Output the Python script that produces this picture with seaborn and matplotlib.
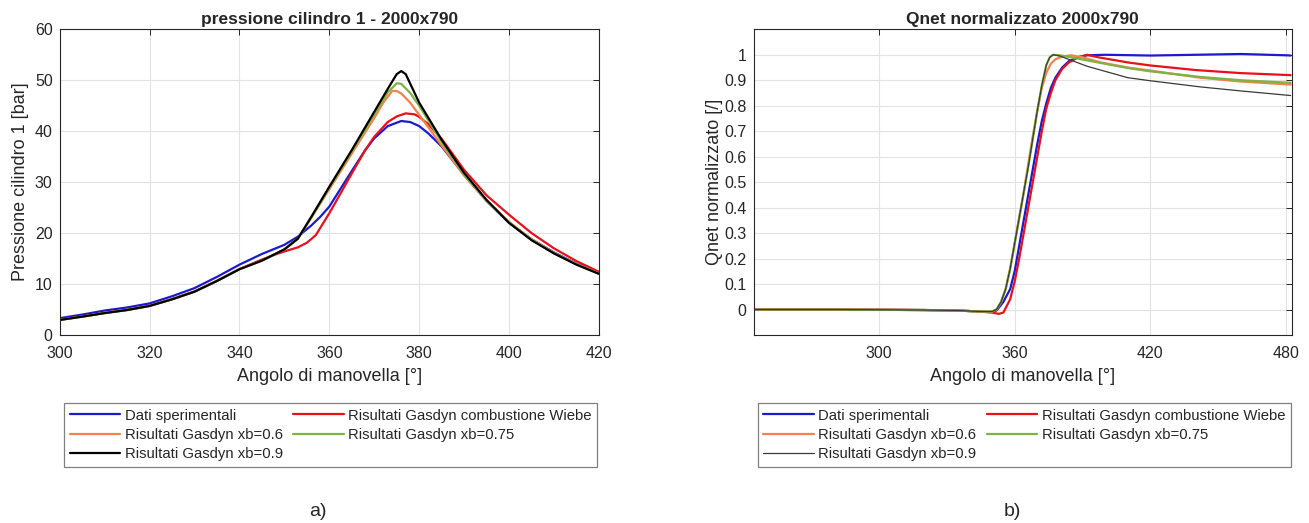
import pandas as pd
import seaborn as sns
import numpy as np
import matplotlib.pyplot as plt

# --- pressione cilindro 1 [bar] vs angolo di manovella ---
p_early_ang = [300, 305, 310, 315, 320, 325, 330, 335, 340, 345, 350]
p_early = [2.95, 3.6, 4.3, 4.9, 5.7, 7.0, 8.5, 10.6, 12.9, 14.6, 16.8]

p_ang_blue = [300, 305, 310, 315, 320, 325, 330, 335, 340, 345, 350, 353, 356, 358, 360, 362, 365, 368,
              370, 373, 376, 378, 380, 382, 385, 390, 395, 400, 405, 410, 415, 420]
p_blue = [3.3, 4.0, 4.8, 5.4, 6.2, 7.6, 9.2, 11.4, 13.8, 15.9, 17.7, 19.3, 21.5, 23.2, 25.2, 28.0, 32.2, 36.3,
          38.6, 41.0, 42.0, 41.8, 41.0, 39.6, 37.0, 31.4, 26.3, 22.0, 18.8, 16.2, 14.0, 12.2]

p_ang_red = [300, 305, 310, 315, 320, 325, 330, 335, 340, 345, 348, 350, 353, 355, 357, 360, 362, 365, 368,
             370, 373, 375, 377, 379, 380, 382, 385, 390, 395, 400, 405, 410, 415, 420]
p_red = [3.0, 3.65, 4.35, 4.95, 5.75, 7.05, 8.55, 10.65, 12.95, 14.8, 15.8, 16.4, 17.2, 18.1, 19.6, 23.9, 27.0,
         31.7, 36.3, 38.9, 41.8, 42.9, 43.5, 43.3, 42.8, 41.4, 38.5, 32.4, 27.4, 23.6, 20.0, 17.0, 14.5, 12.4]

p_ang_orange = p_early_ang + [353, 356, 360, 365, 370, 372, 374, 375, 376, 378, 380, 385, 390, 395, 400,
                              405, 410, 415, 420]
p_orange = p_early + [18.9, 23.0, 28.6, 35.6, 42.6, 45.6, 47.9, 47.9, 47.4, 45.6, 43.2, 37.2, 31.3, 26.3, 22.2,
                      18.8, 16.1, 13.9, 12.1]

p_ang_green = p_early_ang + [353, 356, 360, 365, 370, 373, 375, 376, 378, 380, 385, 390, 395, 400,
                             405, 410, 415, 420]
p_green = p_early + [18.9, 23.1, 28.9, 36.0, 43.3, 47.6, 49.4, 49.3, 47.5, 45.0, 37.9, 31.5, 26.4, 22.1,
                     18.7, 16.0, 13.9, 12.0]

p_ang_black = p_early_ang + [353, 356, 360, 365, 370, 373, 375, 376, 377, 380, 385, 390, 395, 400,
                             405, 410, 415, 420]
p_black = p_early + [18.9, 23.2, 29.1, 36.3, 43.8, 48.3, 51.2, 51.8, 51.2, 45.6, 38.3, 31.8, 26.5, 22.0,
                     18.6, 16.0, 13.8, 12.0]

# --- Qnet normalizzato [/] vs angolo di manovella ---
q_flat_ang = [245, 260, 280, 300, 320, 335, 345]
q_flat = [0.0, 0.0, 0.0, -0.001, -0.002, -0.004, -0.008]

q_ang_blue = q_flat_ang + [349, 352, 355, 358, 360, 362, 364, 366, 368, 370, 372, 374, 376, 378, 381, 384,
                           388, 392, 400, 420, 440, 460, 480, 482]
q_blue = q_flat + [-0.01, -0.004, 0.03, 0.08, 0.15, 0.25, 0.35, 0.45, 0.55, 0.65, 0.74, 0.81, 0.87, 0.91,
                   0.95, 0.975, 0.99, 0.998, 1.0, 0.997, 1.0, 1.003, 0.998, 0.997]

q_ang_red = q_flat_ang + [350, 353, 355, 358, 360, 362, 364, 366, 368, 370, 372, 374, 376, 378, 381, 384,
                          388, 392, 397, 410, 420, 440, 460, 482]
q_red = q_flat + [-0.012, -0.017, -0.012, 0.04, 0.11, 0.2, 0.3, 0.4, 0.5, 0.6, 0.7, 0.79, 0.85, 0.9,
                  0.945, 0.97, 0.99, 1.0, 0.99, 0.97, 0.958, 0.94, 0.928, 0.92]

q_ang_orange = q_flat_ang + [350, 352, 354, 356, 358, 360, 362, 364, 366, 368, 370, 372, 374, 376, 378, 381,
                             385, 390, 398, 410, 420, 442, 460, 482]
q_orange = q_flat + [-0.008, 0.0, 0.03, 0.08, 0.16, 0.26, 0.36, 0.46, 0.57, 0.68, 0.78, 0.87, 0.93, 0.965,
                     0.982, 0.993, 0.998, 0.99, 0.97, 0.95, 0.938, 0.91, 0.895, 0.883]

q_ang_green = q_flat_ang + [350, 352, 354, 356, 358, 360, 362, 364, 366, 368, 370, 372, 374, 375.5, 377, 380,
                            385, 392, 398, 410, 420, 442, 460, 482]
q_green = q_flat + [-0.008, 0.0, 0.03, 0.08, 0.16, 0.26, 0.36, 0.46, 0.56, 0.67, 0.78, 0.88, 0.96, 0.99,
                    1.0, 0.998, 0.99, 0.978, 0.968, 0.948, 0.935, 0.913, 0.9, 0.89]

q_ang_black = q_flat_ang + [350, 352, 354, 356, 358, 360, 362, 364, 366, 368, 370, 372, 374, 375.5, 377, 380,
                            386, 392, 398, 410, 420, 442, 460, 482]
q_black = q_flat + [-0.008, 0.0, 0.03, 0.08, 0.16, 0.26, 0.36, 0.46, 0.56, 0.67, 0.78, 0.88, 0.96, 0.99,
                    1.0, 0.995, 0.975, 0.955, 0.94, 0.91, 0.898, 0.874, 0.858, 0.84]

labels = ["Dati sperimentali", "Risultati Gasdyn combustione Wiebe", "Risultati Gasdyn xb=0.6",
          "Risultati Gasdyn xb=0.75", "Risultati Gasdyn xb=0.9"]
colors = ["#1a1ad0", "#e8101c", "#f5824a", "#7cb342", "#000000"]

sns.set_theme(style="whitegrid")
plt.rcParams['font.family'] = ['Liberation Sans', 'DejaVu Sans']
plt.rcParams['axes.edgecolor'] = '#262626'
plt.rcParams['grid.color'] = '#e3e3e3'

W, H = 1309, 523
fig = plt.figure(figsize=(W / 100, H / 100), dpi=100)
ax1 = fig.add_axes([59.6 / W, 1 - 335 / H, 539.4 / W, 305.7 / H])
ax2 = fig.add_axes([753.6 / W, 1 - 335 / H, 538.2 / W, 305.7 / H])

left_series = [(p_ang_blue, p_blue), (p_ang_red, p_red), (p_ang_orange, p_orange),
               (p_ang_green, p_green), (p_ang_black, p_black)]
right_series = [(q_ang_blue, q_blue), (q_ang_red, q_red), (q_ang_orange, q_orange),
                (q_ang_green, q_green), (q_ang_black, q_black)]

for i, (x, y) in enumerate(left_series):
    sns.lineplot(x=x, y=y, ax=ax1, color=colors[i], lw=1.6, label=labels[i], estimator=None, sort=False)
for i, (x, y) in enumerate(right_series):
    c = "#3a3a3a" if i == 4 else colors[i]
    w = 0.9 if i == 4 else 1.6
    sns.lineplot(x=x, y=y, ax=ax2, color=c, lw=w, label=labels[i], estimator=None, sort=False)

ax1.set_xlim(300, 420)
ax1.set_ylim(0, 60)
ax1.set_xticks(np.arange(300, 421, 20))
ax1.set_yticks(np.arange(0, 61, 10))
ax1.set_title("pressione cilindro 1 - 2000x790", fontsize=12.5, fontweight='bold', pad=4)
ax1.set_xlabel("Angolo di manovella [°]", fontsize=13, labelpad=5)
ax1.set_ylabel("Pressione cilindro 1 [bar]", fontsize=13, labelpad=4)

ax2.set_xlim(244.6, 482.5)
ax2.set_ylim(-0.1, 1.1)
ax2.set_xticks([300, 360, 420, 480])
yt = np.round(np.arange(0, 1.01, 0.1), 1)
ax2.set_yticks(yt)
ax2.set_yticklabels(["0" if v == 0 else ("1" if v == 1 else f"{v:g}") for v in yt])
ax2.set_title("Qnet normalizzato 2000x790", fontsize=12.5, fontweight='bold', pad=4)
ax2.set_xlabel("Angolo di manovella [°]", fontsize=13, labelpad=5)
ax2.set_ylabel("Qnet normalizzato [/]", fontsize=13, labelpad=1)

order = [0, 2, 4, 1, 3]
for ax, x0 in [(ax1, 63.6), (ax2, 757.5)]:
    for s in ax.spines.values():
        s.set_visible(True)
        s.set_linewidth(0.8)
        s.set_color('#262626')
    ax.grid(True, lw=0.8)
    ax.tick_params(direction='in', top=True, right=True, length=4, width=0.7,
                   labelsize=11.5, colors='#262626')
    ax.tick_params(axis='x', pad=8)
    ax.tick_params(axis='y', pad=5)
    h, l = ax.get_legend_handles_labels()
    ax.legend([h[k] for k in order], [l[k] for k in order], ncol=2, loc='upper left',
              bbox_to_anchor=(x0 / W, 1 - 402.7 / H), bbox_transform=fig.transFigure,
              fontsize=10.7, frameon=True, fancybox=False, edgecolor='#808080', framealpha=1,
              handlelength=3.4, handletextpad=0.3, columnspacing=0.7, labelspacing=0.35,
              borderpad=0.4, borderaxespad=0)
    ax.get_legend().get_frame().set_linewidth(0.9)

fig.text(318 / W, 1 - 512 / H, "a)", fontsize=14, ha='center', va='center')
fig.text(1012 / W, 1 - 512 / H, "b)", fontsize=14, ha='center', va='center')

fig.savefig("out.png", dpi=100, facecolor='white')
